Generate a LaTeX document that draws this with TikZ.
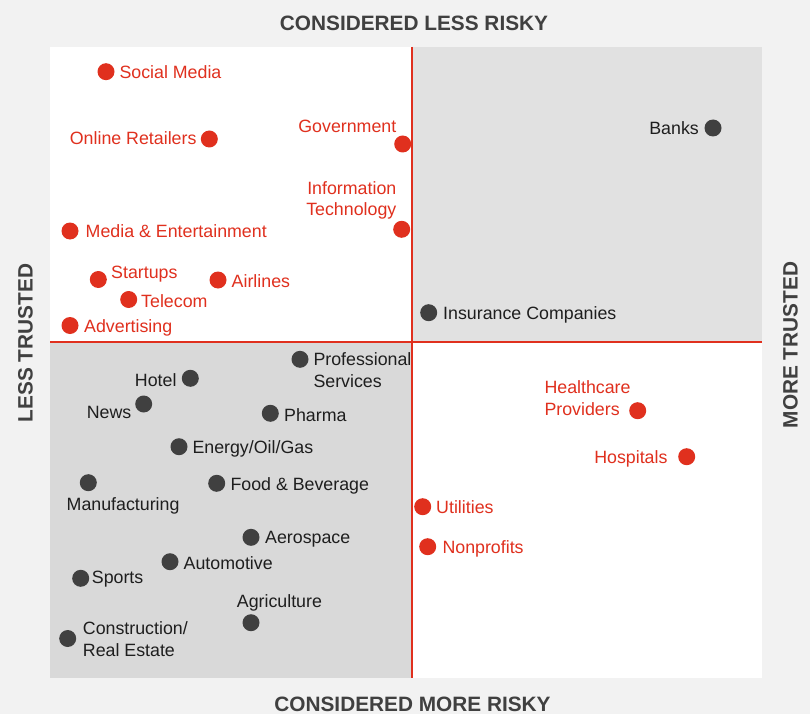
\documentclass[tikz,border=0pt]{standalone}
\usepackage{fontspec}
\setmainfont{Liberation Sans}
\definecolor{bgc}{HTML}{F2F2F2}
\definecolor{trq}{HTML}{E1E1E1}
\definecolor{blq}{HTML}{D9D9D9}
\definecolor{pwred}{HTML}{E0301E}
\definecolor{dotgray}{HTML}{404040}
\definecolor{txtdark}{HTML}{1E1E1E}
\definecolor{headgray}{HTML}{404040}
\begin{document}
\begin{tikzpicture}[x=1pt,y=-1pt,
  rdot/.style={circle,fill=pwred,minimum size=17pt,inner sep=0pt},
  ddot/.style={circle,fill=dotgray,minimum size=17pt,inner sep=0pt},
  lbl/.style={inner sep=0pt,font=\fontsize{17.8}{21.5}\selectfont},
  rlab/.style={lbl,text=pwred},
  dlab/.style={lbl,text=txtdark},
  head/.style={inner sep=0pt,text=headgray,font=\fontsize{20.8}{24}\selectfont\bfseries},
  axisline/.style={draw=pwred,line width=2pt}]
\useasboundingbox (0,0) rectangle (810,714);
\fill[bgc] (0,0) rectangle (810,714);
% quadrants
\fill[white] (50,47) rectangle (412,342);
\fill[trq] (412,47) rectangle (762,342);
\fill[blq] (50,342) rectangle (412,678);
\fill[white] (412,342) rectangle (762,678);
\coordinate (vt) at (412,47);
\coordinate (vb) at (412,678);
\coordinate (hl) at (50,342);
\coordinate (hr) at (762,342);
\draw[axisline] (vt) -- (vb);
\draw[axisline] (hl) -- (hr);
% headings
\node[head,anchor=base] (htop) at (414,30.7) {CONSIDERED LESS RISKY};
\node[head,anchor=base] (hbot) at (412.5,711.5) {CONSIDERED MORE RISKY};
\node[head,anchor=base,rotate=90] (hleft) at (32.5,343) {LESS TRUSTED};
\node[head,anchor=base,rotate=90] (hright) at (797.5,345) {MORE TRUSTED};
% red dots, upper left
\node[rdot] (dsocial) at (106,71.7) {};
\node[rlab,anchor=base west] (lsocial) at (119.3,78.1) {Social Media};
\node[rdot] (donline) at (209.3,139) {};
\node[rlab,anchor=base east] (lonline) at (196.7,144.6) {Online Retailers};
\node[rdot] (dgov) at (402.7,144) {};
\node[rlab,anchor=base east] (lgov) at (396.5,132.1) {Government};
\node[rdot] (dit) at (401.7,229.3) {};
\node[rlab,anchor=north east,align=right] (lit) at (396.5,181.2) {Information\\Technology};
\node[rdot] (dmedia) at (70,231) {};
\node[rlab,anchor=base west] (lmedia) at (85.5,237.4) {Media \& Entertainment};
\node[rdot] (dstart) at (98.3,279.5) {};
\node[rlab,anchor=base west] (lstart) at (111,278.1) {Startups};
\node[rdot] (dair) at (218,280) {};
\node[rlab,anchor=base west] (lair) at (231.5,287.4) {Airlines};
\node[rdot] (dtel) at (128.7,299.5) {};
\node[rlab,anchor=base west] (ltel) at (141,307.1) {Telecom};
\node[rdot] (dadv) at (70,325.5) {};
\node[rlab,anchor=base west] (ladv) at (84,332.4) {Advertising};
% upper right
\node[ddot] (dbanks) at (713,128) {};
\node[dlab,anchor=base east] (lbanks) at (699,134.4) {Banks};
\node[ddot] (dins) at (428.7,312.7) {};
\node[dlab,anchor=base west] (lins) at (443,319.1) {Insurance Companies};
% lower left
\node[ddot] (dprof) at (300,359.3) {};
\node[dlab,anchor=north west,align=left] (lprof) at (313.3,352.6) {Professional\\Services};
\node[ddot] (dhotel) at (190.3,378.3) {};
\node[dlab,anchor=base east] (lhotel) at (176.7,386.4) {Hotel};
\node[ddot] (dnews) at (143.7,404) {};
\node[dlab,anchor=base east] (lnews) at (131.5,418.1) {News};
\node[ddot] (dpharma) at (270.3,413.3) {};
\node[dlab,anchor=base west] (lpharma) at (284,421.4) {Pharma};
\node[ddot] (denergy) at (179,446.7) {};
\node[dlab,anchor=base west] (lenergy) at (192.3,453.1) {Energy/Oil/Gas};
\node[ddot] (dmanu) at (88.3,482.7) {};
\node[dlab,anchor=base west] (lmanu) at (66.5,510.4) {Manufacturing};
\node[ddot] (dfood) at (216.7,483.3) {};
\node[dlab,anchor=base west] (lfood) at (230.3,490.2) {Food \& Beverage};
\node[ddot] (daero) at (251,537.3) {};
\node[dlab,anchor=base west] (laero) at (265,543.7) {Aerospace};
\node[ddot] (dauto) at (170,561.7) {};
\node[dlab,anchor=base west] (lauto) at (183.5,569.1) {Automotive};
\node[ddot] (dsports) at (80.7,578.3) {};
\node[dlab,anchor=base west] (lsports) at (91.7,583.4) {Sports};
\node[ddot] (dagri) at (251,622.7) {};
\node[dlab,anchor=base west] (lagri) at (236.7,607.1) {Agriculture};
\node[ddot] (dcons) at (67.7,638.5) {};
\node[dlab,anchor=north west,align=left] (lcons) at (82.7,621.6) {Construction/\\Real Estate};
% lower right
\node[rdot] (dhealth) at (637.7,410.7) {};
\node[rlab,anchor=north west,align=left] (lhealth) at (544.3,380.6) {Healthcare\\Providers};
\node[rdot] (dhosp) at (686.7,456.7) {};
\node[rlab,anchor=base east] (lhosp) at (667.7,463.1) {Hospitals};
\node[rdot] (dutil) at (422.7,506.7) {};
\node[rlab,anchor=base west] (lutil) at (436,513.1) {Utilities};
\node[rdot] (dnon) at (427.7,546.7) {};
\node[rlab,anchor=base west] (lnon) at (442.3,553.1) {Nonprofits};
\end{tikzpicture}
\end{document}
